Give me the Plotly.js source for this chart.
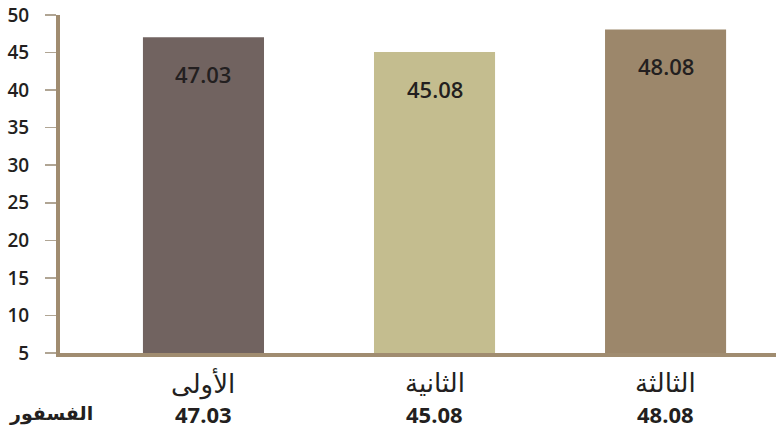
<!DOCTYPE html>
<html><head><meta charset="utf-8">
<script src="https://cdn.plot.ly/plotly-3.0.1.min.js"></script>
<style>html,body{margin:0;padding:0;background:#fff}#c{width:776px;height:435px}</style>
</head><body><div id="c"></div>
<script>
const categories = ['الأولى', 'الثانية', 'الثالثة'];
const values = [47.03, 45.08, 48.08];
const valueLabels = ['47.03', '45.08', '48.08'];
const rowLabel = 'الفسفور';
const barColors = ['#716360', '#c4bd8f', '#9c876b'];
const yTicks = [5, 10, 15, 20, 25, 30, 35, 40, 45, 50];

const xs = [0, 1, 2];
const numFont = {family: 'Open Sans, Noto Sans, sans-serif', color: '#231f20'};
const arFont = {family: 'DejaVu Sans, sans-serif', color: '#231f20'};

const annotations = [];
xs.forEach((x, i) => {
  annotations.push({x: x, y: values[i], xref: 'x', yref: 'y', yshift: -37, yanchor: 'middle', xanchor: 'center', showarrow: false,
    text: valueLabels[i], font: Object.assign({}, numFont, {size: 22, weight: 600})});
  annotations.push({x: x, y: -0.0888, xref: 'x', yref: 'paper', yanchor: 'middle', xanchor: 'center', showarrow: false,
    text: categories[i], font: Object.assign({}, arFont, {size: 26})});
  annotations.push({x: x, y: -0.180, xref: 'x', yref: 'paper', yanchor: 'middle', xanchor: 'center', showarrow: false,
    text: valueLabels[i], font: Object.assign({}, numFont, {size: 22, weight: 700})});
});
annotations.push({x: -0.074, y: -0.180, xref: 'paper', yref: 'paper', yanchor: 'middle', xanchor: 'left', showarrow: false,
  text: '<b>' + rowLabel + '</b>', font: Object.assign({}, arFont, {size: 19})});

Plotly.newPlot('c', [{
  type: 'bar', x: xs, y: values, base: 0,
  marker: {color: barColors}, width: 0.524, hoverinfo: 'none'
}], {
  width: 776, height: 435,
  margin: {l: 60, r: 0, t: 15, b: 82},
  paper_bgcolor: '#ffffff', plot_bgcolor: '#ffffff',
  showlegend: false,
  xaxis: {range: [-0.621, 2.478], showticklabels: false, ticks: '', showgrid: false, zeroline: false,
    showline: true, linecolor: '#a08c70', linewidth: 4, fixedrange: true},
  yaxis: {range: [5, 50], tickvals: yTicks, ticktext: yTicks.map(String), ticks: 'outside', ticklen: 11,
    tickwidth: 1.5, tickcolor: '#b0a594', showgrid: false, zeroline: false,
    showline: true, linecolor: '#a08c70', linewidth: 4, ticklabelstandoff: 12,
    tickfont: Object.assign({}, numFont, {size: 19, weight: 600}), fixedrange: true},
  annotations: annotations
}, {staticPlot: true});
</script></body></html>
